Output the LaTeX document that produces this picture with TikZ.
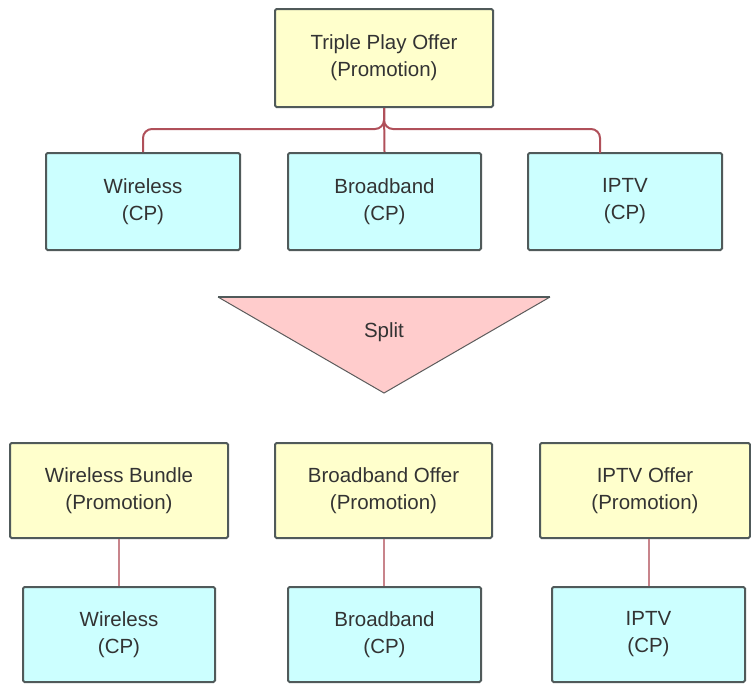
\documentclass[tikz,border=0pt]{standalone}
\usepackage{fontspec}
\setmainfont{Liberation Sans}
\definecolor{ybox}{HTML}{FFFFCC}
\definecolor{cbox}{HTML}{CCFFFF}
\definecolor{pinkfill}{HTML}{FFCCCC}
\definecolor{edge}{HTML}{505A5A}
\definecolor{conn}{HTML}{B0505A}
\definecolor{txt}{HTML}{333333}
\begin{document}
\begin{tikzpicture}[x=1pt,y=-1pt,
  box/.style={draw=edge, line width=2pt, rounded corners=1.5pt, align=center,
    text=txt, font=\fontsize{20.5}{27}\selectfont, inner sep=0pt},
  promo/.style={box, fill=ybox},
  cp/.style={box, fill=cbox},
  link/.style={draw=conn, line width=2pt},
  plink/.style={draw=conn!70, line width=2pt}]
\useasboundingbox (0,0) rectangle (751,683);
% top
\node[promo, minimum width=218pt, minimum height=98pt] (T) at (384,58) {Triple Play Offer\\(Promotion)};
\node[cp, minimum width=194pt, minimum height=97pt] (W) at (143,201.5) {Wireless\\(CP)};
\node[cp, minimum width=193pt, minimum height=97pt] (B) at (384.5,201.5) {Broadband\\(CP)};
\node[cp, minimum width=194pt, minimum height=97pt] (I) at (625,201.5) {IPTV\\(CP)};
\coordinate (j) at (384,129);
\coordinate (Itop) at (600,153);
\draw[link] (T.south) -- (B.north);
\draw[link, rounded corners=9pt] (W.north) |- (j) -- (T.south);
\draw[link, rounded corners=9pt] (Itop) |- (j) -- (T.south);
% split
\filldraw[fill=pinkfill, draw=txt!80, line width=1pt] (218,297) -- (384,393) -- (550,297);
\draw[draw=edge, line width=2pt] (218,297) -- (550,297);
\node[text=txt, font=\fontsize{20.5}{27}\selectfont] (S) at (384,332) {Split};
% bottom
\node[promo, minimum width=218pt, minimum height=95pt] (WB) at (119,490.5) {Wireless Bundle\\(Promotion)};
\node[promo, minimum width=217pt, minimum height=95pt] (BO) at (383.5,490.5) {Broadband Offer\\(Promotion)};
\node[promo, minimum width=210pt, minimum height=95pt] (IO) at (645,490.5) {IPTV Offer\\(Promotion)};
\node[cp, minimum width=192pt, minimum height=95pt] (W2) at (119,634.5) {Wireless\\(CP)};
\node[cp, minimum width=193pt, minimum height=95pt] (B2) at (384.5,634.5) {Broadband\\(CP)};
\node[cp, minimum width=193pt, minimum height=95pt] (I2) at (648.5,634.5) {IPTV\\(CP)};
\draw[plink] (WB.south) -- (W2.north);
\draw[plink] (BO.south) -- (BO.south |- B2.north);
\draw[plink] (I2.north |- IO.south) -- (I2.north);
\end{tikzpicture}
\end{document}
